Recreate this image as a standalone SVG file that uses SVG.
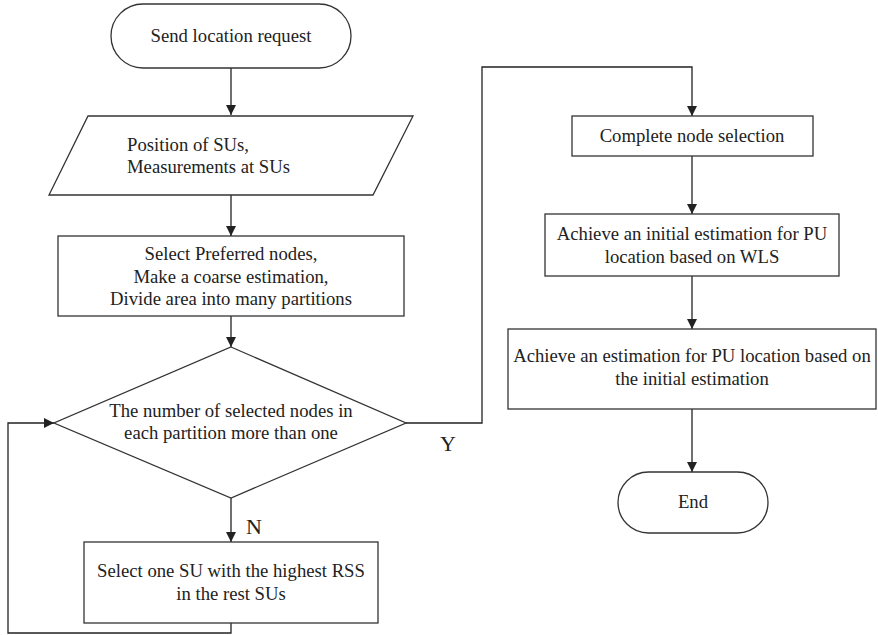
<svg xmlns="http://www.w3.org/2000/svg" width="878" height="635" viewBox="0 0 878 635">
  <defs>
    <marker id="arrow" viewBox="0 0 10 10" refX="10" refY="5" markerWidth="10" markerHeight="10" markerUnits="userSpaceOnUse" orient="auto">
      <path d="M0,0 L10,5 L0,10 Z" fill="#222"/>
    </marker>
  </defs>

  <!-- flow connectors, with branch labels -->
  <g id="connectors" fill="none" stroke="#222" stroke-width="1.3">
    <path d="M231,68 V115" marker-end="url(#arrow)"/>
    <path d="M231,195 V236" marker-end="url(#arrow)"/>
    <path d="M231,316 V347" marker-end="url(#arrow)"/>
    <path d="M231,498 V542" marker-end="url(#arrow)"/>
    <path d="M231,623 V633 H8 V423 H54" marker-end="url(#arrow)"/>
    <path d="M406,423 H482 V67 H692 V116" marker-end="url(#arrow)"/>
    <path d="M692,156 V214" marker-end="url(#arrow)"/>
    <path d="M692,276 V329" marker-end="url(#arrow)"/>
    <path d="M692,409 V472" marker-end="url(#arrow)"/>
    <text font-family="Liberation Serif" font-size="22" fill="#222" stroke="none" x="246" y="534">N</text>
    <text font-family="Liberation Serif" font-size="22" fill="#222" stroke="none" x="440" y="451">Y</text>
  </g>

  <g id="start">
    <rect fill="#fff" stroke="#333" stroke-width="1.3" x="111" y="4" width="240" height="64" rx="32" ry="32"/>
    <text font-family="Liberation Serif" font-size="18.7" fill="#222" text-anchor="middle" x="231" y="42">Send location request</text>
  </g>

  <g id="input">
    <polygon fill="#fff" stroke="#333" stroke-width="1.3" points="88,116 413,116 373,195 49,195"/>
    <text font-family="Liberation Serif" font-size="18.7" fill="#222" x="127" y="151">Position of SUs,</text>
    <text font-family="Liberation Serif" font-size="18.7" fill="#222" x="127" y="173">Measurements at SUs</text>
  </g>

  <g id="preprocess">
    <rect fill="#fff" stroke="#333" stroke-width="1.3" x="58" y="236" width="346" height="80"/>
    <text font-family="Liberation Serif" font-size="18.7" fill="#222" text-anchor="middle" x="231" y="260">Select Preferred nodes,</text>
    <text font-family="Liberation Serif" font-size="18.7" fill="#222" text-anchor="middle" x="231" y="283">Make a coarse estimation,</text>
    <text font-family="Liberation Serif" font-size="18.7" fill="#222" text-anchor="middle" x="231" y="305">Divide area into many partitions</text>
  </g>

  <g id="decision">
    <polygon fill="#fff" stroke="#333" stroke-width="1.3" points="231,347 406,423 231,498 54,423"/>
    <text font-family="Liberation Serif" font-size="18.7" fill="#222" text-anchor="middle" x="231" y="417">The number of selected nodes in</text>
    <text font-family="Liberation Serif" font-size="18.7" fill="#222" text-anchor="middle" x="231" y="439">each partition more than one</text>
  </g>

  <g id="select-su">
    <rect fill="#fff" stroke="#333" stroke-width="1.3" x="84" y="542" width="294" height="81"/>
    <text font-family="Liberation Serif" font-size="18.7" fill="#222" text-anchor="middle" x="231" y="577">Select one SU with the highest RSS</text>
    <text font-family="Liberation Serif" font-size="18.7" fill="#222" text-anchor="middle" x="231" y="600">in the rest SUs</text>
  </g>

  <g id="complete">
    <rect fill="#fff" stroke="#333" stroke-width="1.3" x="572" y="116" width="241" height="40"/>
    <text font-family="Liberation Serif" font-size="18.7" fill="#222" text-anchor="middle" x="692" y="142">Complete node selection</text>
  </g>

  <g id="initial-estimate">
    <rect fill="#fff" stroke="#333" stroke-width="1.3" x="545" y="214" width="294" height="62"/>
    <text font-family="Liberation Serif" font-size="18.7" fill="#222" text-anchor="middle" x="692" y="240">Achieve an initial estimation for PU</text>
    <text font-family="Liberation Serif" font-size="18.7" fill="#222" text-anchor="middle" x="692" y="263">location based on WLS</text>
  </g>

  <g id="final-estimate">
    <rect fill="#fff" stroke="#333" stroke-width="1.3" x="508" y="329" width="368" height="80"/>
    <text font-family="Liberation Serif" font-size="18.7" fill="#222" text-anchor="middle" x="692" y="362">Achieve an estimation for PU location based on</text>
    <text font-family="Liberation Serif" font-size="18.7" fill="#222" text-anchor="middle" x="692" y="385">the initial estimation</text>
  </g>

  <g id="end">
    <rect fill="#fff" stroke="#333" stroke-width="1.3" x="618" y="472" width="150" height="61" rx="30.5" ry="30.5"/>
    <text font-family="Liberation Serif" font-size="18.7" fill="#222" text-anchor="middle" x="693" y="508">End</text>
  </g>
</svg>
